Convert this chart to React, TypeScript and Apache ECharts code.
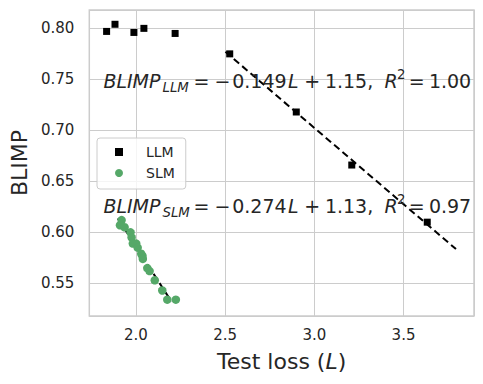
import React, { useEffect, useRef } from "react";
import * as echarts from "echarts";

const llmLoss = [1.836, 1.883, 1.989, 2.045, 2.22, 2.526, 2.899, 3.21, 3.633];
const llmBlimp = [0.797, 0.804, 0.796, 0.8, 0.795, 0.775, 0.718, 0.666, 0.61];
const slmLoss = [1.92, 1.911, 1.937, 1.97, 1.976, 1.983, 2.002, 2.01, 2.03, 2.037, 2.039, 2.064, 2.077, 2.106, 2.148, 2.176, 2.224];
const slmBlimp = [0.612, 0.607, 0.605, 0.6, 0.595, 0.589, 0.589, 0.585, 0.579, 0.577, 0.574, 0.565, 0.562, 0.553, 0.543, 0.534, 0.534];
const llmFitLoss = [2.502, 3.794];
const llmFitBlimp = [0.777, 0.5836];
const slmFitLoss = [1.899, 2.2];
const slmFitBlimp = [0.6137, 0.532];
const llmEq = { name: "LLM", slope: "0.149", intercept: "1.15", r2: "1.00" };
const slmEq = { name: "SLM", slope: "0.274", intercept: "1.13", r2: "0.97" };

const FONT = "DejaVu Sans";
const TEXT = "#262626";
const GREEN = "#55a868";

// pieces of the mathtext-like equation: [text, x offset, kind]
function eqPieces(eq: typeof llmEq): [string, number, string][] {
  return [
    ["BLIMP", -0.6, "it"],
    [eq.name, 58.5, "sub"],
    ["=", 89.5, "n"],
    ["−", 110.5, "n"],
    [eq.slope, 128.2, "n"],
    ["L", 184, "it"],
    ["+", 200.2, "n"],
    [eq.intercept + ",", 220.9, "n"],
    ["R", 280.5, "it"],
    ["2", 293, "sup"],
    ["=", 304.8, "n"],
    [eq.r2, 324.9, "n"],
  ];
}

function eqGroup(eq: typeof llmEq, left: number, mid: number) {
  return {
    type: "group",
    x: left,
    y: 0,
    z: 10,
    children: eqPieces(eq).map(([t, dx, kind]) => {
      const small = kind === "sub" || kind === "sup";
      const y = kind === "sub" ? mid + 6 : kind === "sup" ? mid - 7 : mid;
      return {
        type: "text",
        x: dx,
        y,
        z: 10,
        style: {
          text: t,
          fill: TEXT,
          fontFamily: FONT,
          fontSize: small ? 13.3 : 19,
          fontStyle: kind === "n" || kind === "sup" ? "normal" : "italic",
          align: "left",
          verticalAlign: "middle",
          textAlign: "left",
          textVerticalAlign: "middle",
        },
      };
    }),
  };
}

export default function App() {
  const ref = useRef<HTMLDivElement>(null);
  useEffect(() => {
    if (!ref.current) return;
    const chart = echarts.init(ref.current, null, { renderer: "svg" });
    chart.setOption({
      animation: false,
      backgroundColor: "#ffffff",
      textStyle: { fontFamily: FONT, color: TEXT },
      grid: { left: 89, right: 9, top: 10, bottom: 68, show: true, borderColor: "#cccccc", borderWidth: 1.5, backgroundColor: "transparent" },
      legend: {
        data: ["LLM", "SLM"],
        orient: "vertical",
        left: 97,
        top: 138,
        padding: [7, 11, 9, 18],
        itemGap: 7,
        itemWidth: 8,
        itemHeight: 8,
        backgroundColor: "rgba(255,255,255,0.8)",
        borderColor: "#cccccc",
        borderWidth: 1,
        borderRadius: 3,
        textStyle: { fontFamily: FONT, fontSize: 14, color: TEXT, padding: [0, 0, 0, 18], lineHeight: 14 },
      },
      xAxis: {
        type: "value",
        min: 1.739,
        max: 3.895,
        splitNumber: 4,
        axisLine: { show: false },
        axisTick: { show: false },
        axisLabel: { fontFamily: FONT, fontSize: 15, color: TEXT, margin: 11, showMinLabel: false, showMaxLabel: false, formatter: (v: number) => v.toFixed(1) },
        splitLine: { show: true, lineStyle: { color: "#cccccc", width: 1 } },
        name: "Test loss ({it|L})",
        nameLocation: "middle",
        nameGap: 34,
        nameTextStyle: { fontFamily: FONT, fontSize: 22, color: TEXT, rich: { it: { fontFamily: FONT, fontSize: 22, fontStyle: "italic", color: TEXT } } },
      },
      yAxis: {
        type: "value",
        min: 0.518,
        max: 0.818,
        splitNumber: 6,
        axisLine: { show: false },
        axisTick: { show: false },
        axisLabel: { fontFamily: FONT, fontSize: 15, color: TEXT, margin: 15, showMinLabel: false, showMaxLabel: false, formatter: (v: number) => v.toFixed(2) },
        splitLine: { show: true, lineStyle: { color: "#cccccc", width: 1 } },
        name: "BLIMP",
        nameLocation: "middle",
        nameGap: 59,
        nameTextStyle: { fontFamily: FONT, fontSize: 22, color: TEXT },
      },
      series: [
        {
          name: "LLM fit",
          type: "line",
          data: llmFitLoss.map((x, i) => [x, llmFitBlimp[i]]),
          symbol: "none",
          silent: true,
          z: 1,
          lineStyle: { color: "#000000", width: 2, type: [7, 4] },
        },
        {
          name: "SLM fit",
          type: "line",
          data: slmFitLoss.map((x, i) => [x, slmFitBlimp[i]]),
          symbol: "none",
          silent: true,
          z: 1,
          lineStyle: { color: "#000000", width: 2, type: [7, 4] },
        },
        {
          name: "LLM",
          type: "scatter",
          data: llmLoss.map((x, i) => [x, llmBlimp[i]]),
          symbol: "rect",
          symbolSize: 7,
          z: 3,
          itemStyle: { color: "#000000", opacity: 1 },
        },
        {
          name: "SLM",
          type: "scatter",
          data: slmLoss.map((x, i) => [x, slmBlimp[i]]),
          symbol: "circle",
          symbolSize: 8.5,
          z: 3,
          itemStyle: { color: GREEN, opacity: 1 },
        },
      ],
      graphic: [eqGroup(llmEq, 104, 81), eqGroup(slmEq, 104, 206)],
    });
    return () => chart.dispose();
  }, []);
  return <div ref={ref} style={{ position: "fixed", left: 0, top: 0, width: 483, height: 384 }} />;
}
